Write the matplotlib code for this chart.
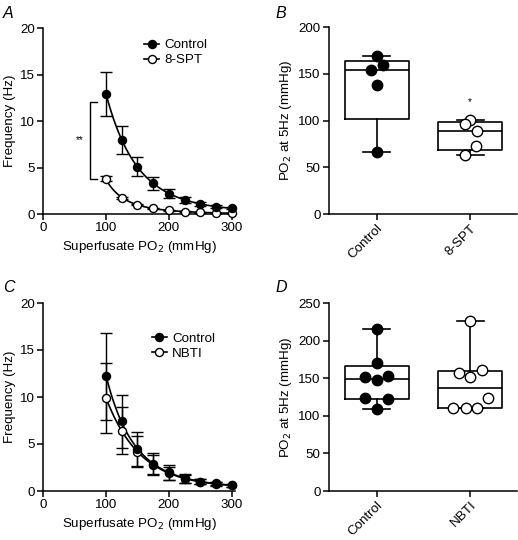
import numpy as np
import matplotlib
matplotlib.use("Agg")
import matplotlib.pyplot as plt
from matplotlib.lines import Line2D

plt.rcParams['font.family'] = ['Liberation Sans', 'DejaVu Sans']
plt.rcParams['font.size'] = 9.5
plt.rcParams['axes.linewidth'] = 1.1
plt.rcParams['xtick.major.width'] = 1.1
plt.rcParams['ytick.major.width'] = 1.1
plt.rcParams['xtick.major.size'] = 4
plt.rcParams['ytick.major.size'] = 4

FS = 9.6

# ---------------- data ----------------
po2 = [100, 125, 150, 175, 200, 225, 250, 275, 300]

a_control = [12.9, 8.0, 5.1, 3.3, 2.2, 1.5, 1.1, 0.8, 0.6]
a_control_err = [2.4, 1.5, 1.0, 0.7, 0.5, 0.3, 0.2, 0.15, 0.1]
a_spt = [3.8, 1.7, 1.0, 0.6, 0.4, 0.25, 0.18, 0.12, 0.08]
a_spt_err = [0.3, 0.1, 0.08, 0.05, 0.05, 0.03, 0.03, 0.02, 0.02]

c_control = [12.2, 7.4, 4.5, 2.9, 2.0, 1.35, 1.0, 0.8, 0.6]
c_control_err = [4.6, 2.8, 1.8, 1.15, 0.8, 0.45, 0.3, 0.2, 0.15]
c_nbti = [9.9, 6.4, 4.2, 2.8, 1.9, 1.3, 1.0, 0.75, 0.6]
c_nbti_err = [3.7, 2.5, 1.6, 1.0, 0.7, 0.4, 0.25, 0.2, 0.15]

b_categories = ['Control', '8-SPT']
b_control = [169, 159, 153.5, 137.5, 66]
b_spt = [101, 96.5, 88.5, 72.5, 63.5]

d_categories = ['Control', 'NBTI']
d_control = [215, 170, 151, 148, 153.5, 124, 122, 109]
d_nbti = [226, 157.5, 161, 151, 124, 111, 111, 111]

# horizontal jitter of dots (layout only)
b_control_jit = [0.0, 0.065, -0.06, 0.0, 0.0]
b_spt_jit = [0.0, -0.055, 0.07, 0.065, -0.055]
d_control_jit = [0.0, 0.0, -0.125, 0.0, 0.125, -0.12, 0.12, 0.0]
d_nbti_jit = [0.0, -0.12, 0.125, 0.0, 0.19, -0.18, -0.05, 0.07]


def prism_quartile(vals, p):
    v = np.sort(np.asarray(vals, float))
    n = len(v)
    pos = (n + 1) * p
    lo = int(np.floor(pos))
    frac = pos - lo
    lo = max(1, min(lo, n))
    hi = min(lo + 1, n)
    return v[lo - 1] + frac * (v[hi - 1] - v[lo - 1])


def box_stats(vals):
    return dict(med=prism_quartile(vals, 0.5), q1=prism_quartile(vals, 0.25),
                q3=prism_quartile(vals, 0.75), whislo=min(vals), whishi=max(vals),
                fliers=[])


def fit_curve(x, y, deg=3):
    x = np.asarray(x, float)
    coef = np.polyfit(x, np.log(np.asarray(y, float)), deg)
    xs = np.linspace(x.min(), x.max(), 200)
    return xs, np.exp(np.polyval(coef, xs))


fig = plt.figure(figsize=(5.18, 5.40), dpi=100)
W, H = 518, 540


def add_ax(l, t, r, b):
    return fig.add_axes([l / W, 1 - b / H, (r - l) / W, (b - t) / H])


def style(ax):
    ax.spines['top'].set_visible(False)
    ax.spines['right'].set_visible(False)
    ax.tick_params(direction='out', labelsize=FS, pad=2)


ms = 5.8
cap = 4.2


def curve_panel(ax, s1, e1, s2, e2, lab1, lab2, leg_anchor):
    for vals, errs, fc in [(s2, e2, 'white'), (s1, e1, 'black')]:
        xs, ys = fit_curve(po2, vals)
        ax.plot(xs, ys, color='black', lw=1.2, zorder=2)
        ax.errorbar(po2, vals, yerr=errs, fmt='none', ecolor='black', elinewidth=1.0,
                    capsize=cap, capthick=1.0, zorder=3)
        ax.plot(po2, vals, 'o', ms=ms, mfc=fc, mec='black', mew=1.0, zorder=4, clip_on=False)
    ax.set_xlim(0, 305)
    ax.set_ylim(0, 20)
    ax.set_xticks([0, 100, 200, 300])
    ax.set_yticks([0, 5, 10, 15, 20])
    ax.set_xlabel('Superfusate PO$_2$ (mmHg)', fontsize=FS, labelpad=3)
    ax.set_ylabel('Frequency (Hz)', fontsize=FS, labelpad=3)
    h1 = Line2D([], [], color='black', lw=1.2, marker='o', ms=ms, mfc='black', mec='black')
    h2 = Line2D([], [], color='black', lw=1.2, marker='o', ms=ms, mfc='white', mec='black')
    ax.legend([h1, h2], [lab1, lab2], loc='upper left', bbox_to_anchor=leg_anchor,
              frameon=False, handlelength=1.1, handletextpad=0.4, labelspacing=0.2,
              fontsize=FS, borderaxespad=0)
    style(ax)


def box_panel(ax, cats, g1, j1, g2, j2, ylim, yticks):
    stats = [box_stats(g1), box_stats(g2)]
    ax.bxp(stats, positions=[0, 1], widths=0.68, capwidths=0.29, showfliers=False,
           boxprops=dict(color='black', lw=1.2), whiskerprops=dict(color='black', lw=1.2),
           capprops=dict(color='black', lw=1.2), medianprops=dict(color='black', lw=1.2),
           manage_ticks=False, zorder=2)
    ax.plot(np.array(j1) + 0, g1, 'o', ms=7.5, mfc='black', mec='black', mew=1.0, zorder=4)
    ax.plot(np.array(j2) + 1, g2, 'o', ms=7.5, mfc='white', mec='black', mew=1.0, zorder=4)
    ax.set_xlim(-0.51, 1.5)
    ax.set_ylim(*ylim)
    ax.set_yticks(yticks)
    ax.set_xticks([0, 1])
    ax.set_xticklabels(cats, rotation=45, ha='right', rotation_mode='anchor')
    ax.set_ylabel('PO$_2$ at 5Hz (mmHg)', fontsize=FS, labelpad=3)
    style(ax)


axA = add_ax(43, 28, 235, 214)
curve_panel(axA, a_control, a_control_err, a_spt, a_spt_err, 'Control', '8-SPT', (0.5, 0.97))
# significance bracket
axA.plot([86, 75, 75, 86], [12.0, 12.0, 3.8, 3.8], color='black', lw=1.0, clip_on=False)
axA.text(58, 7.9, '**', ha='center', va='center', fontsize=7)

axB = add_ax(329, 27, 517, 214)
box_panel(axB, b_categories, b_control, b_control_jit, b_spt, b_spt_jit, (0, 200), [0, 50, 100, 150, 200])
axB.text(1.0, 114, '*', ha='center', va='bottom', fontsize=7)

axC = add_ax(43, 303, 235, 491)
curve_panel(axC, c_control, c_control_err, c_nbti, c_nbti_err, 'Control', 'NBTI', (0.54, 0.87))

axD = add_ax(329, 303, 517, 491)
box_panel(axD, d_categories, d_control, d_control_jit, d_nbti, d_nbti_jit, (0, 250), [0, 50, 100, 150, 200, 250])

for lab, x, y in [('A', 3, 13), ('B', 276, 13), ('C', 3, 287), ('D', 276, 288)]:
    fig.text(x / W, 1 - y / H, lab, fontsize=11.5, style='italic', ha='left', va='center')

fig.savefig('out.png', dpi=100)
